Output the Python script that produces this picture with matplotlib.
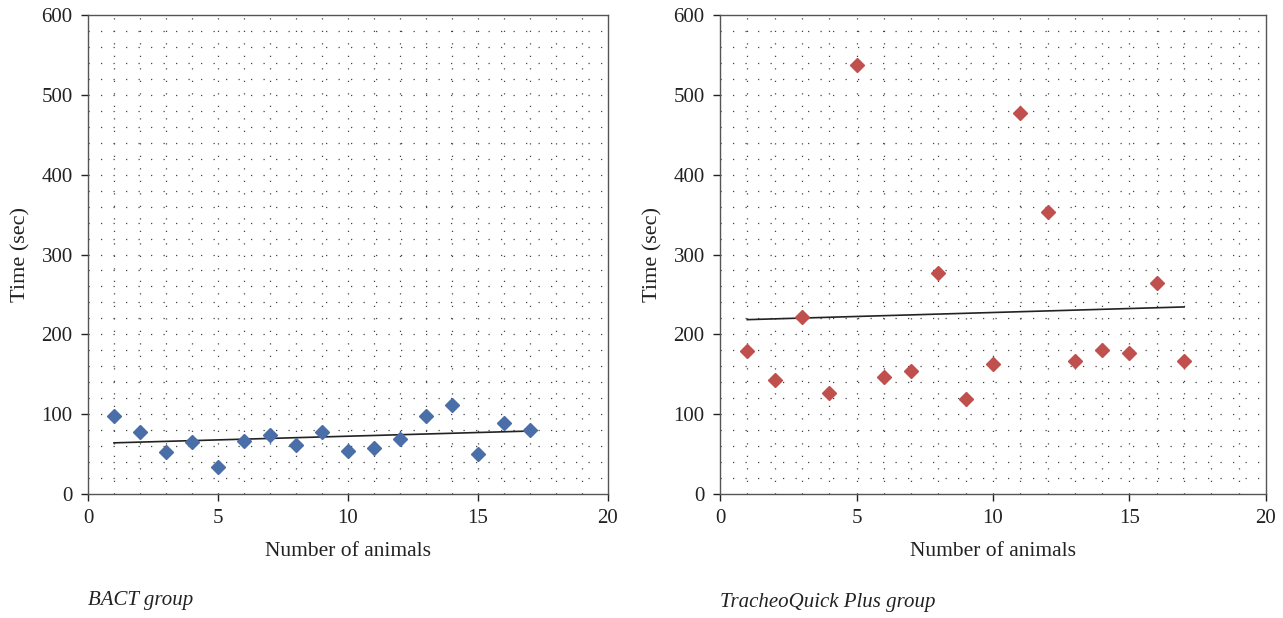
import numpy as np
import matplotlib
matplotlib.use("Agg")
import matplotlib.pyplot as plt

plt.rcParams['font.family'] = ['Liberation Serif', 'DejaVu Serif']

animals = list(range(1, 18))
bact_time = [98, 78, 52, 65, 34, 66, 74, 61, 78, 54, 58, 69, 98, 111, 50, 89, 80]
tq_time = [179, 143, 222, 126, 537, 146, 154, 277, 119, 163, 477, 353, 166, 180, 176, 264, 166]
captions = ["BACT group", "TracheoQuick Plus group"]
colors = ["#4a6ea8", "#c0504d"]

fig = plt.figure(figsize=(12.83, 6.18), dpi=100)
ax1 = fig.add_axes([88/1283, 124/618, 520/1283, 479/618])
ax2 = fig.add_axes([720/1283, 124/618, 546/1283, 479/618])

for ax, data, col, cap in zip([ax1, ax2], [bact_time, tq_time], colors, captions):
    ax.set_xlim(0, 20)
    ax.set_ylim(0, 600)
    # dotted grid
    for x in range(1, 20):
        ax.axvline(x, color='#444444', lw=0.9, ls=(0, (1, 9)), zorder=0)
    for y in range(20, 600, 20):
        ax.axhline(y, color='#444444', lw=0.9, ls=(0, (1, 9)), zorder=0)
    ax.plot(animals, data, 'D', color=col, ms=7, zorder=3)
    slope, inter = np.polyfit(animals, data, 1)
    xs = np.array([animals[0], animals[-1]])
    ax.plot(xs, slope * xs + inter, color='#222222', lw=1.2, zorder=2)
    ax.set_xticks([0, 5, 10, 15, 20])
    ax.set_yticks(range(0, 601, 100))
    ax.tick_params(axis='both', labelsize=15, colors='#222222', length=5, width=1, pad=6)
    for s in ax.spines.values():
        s.set_color('#555555')
        s.set_linewidth(1.0)
    ax.set_xlabel("Number of animals", fontsize=15.5, color='#222222', labelpad=10)
    ax.set_ylabel("Time (sec)", fontsize=16, color='#222222', labelpad=8)

fig.text(88/1283, 1 - 600/618, captions[0], fontsize=15, style='italic', color='#222222', va='center')
fig.text(720/1283, 1 - 603/618, captions[1], fontsize=15, style='italic', color='#222222', va='center')

fig.savefig("out.png", dpi=100)
